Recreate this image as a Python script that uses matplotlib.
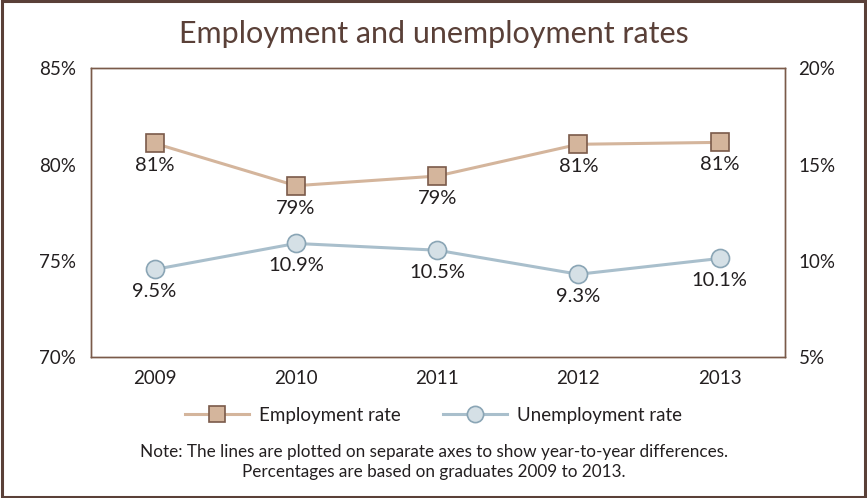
import matplotlib.pyplot as plt
from matplotlib.patches import Rectangle

years = ["2009", "2010", "2011", "2012", "2013"]
employment = [81.1, 78.9, 79.4, 81.05, 81.15]
employment_labels = ["81%", "79%", "79%", "81%", "81%"]
unemployment = [9.55, 10.9, 10.55, 9.3, 10.12]
unemployment_labels = ["9.5%", "10.9%", "10.5%", "9.3%", "10.1%"]
left_ticks = [70, 75, 80, 85]
right_ticks = [5, 10, 15, 20]

plt.rcParams['font.family'] = ['Lato', 'DejaVu Sans']

brown = "#5a4038"
emp_line = "#d4b59c"
emp_edge = "#7a5a4a"
unemp_line = "#a9bfcc"
unemp_face = "#d5e0e6"
unemp_edge = "#8aa5b5"
text_col = "#231f20"

fig = plt.figure(figsize=(8.67, 4.98), dpi=100)
fig.patches.append(Rectangle((0.002, 0.003), 0.996, 0.994, transform=fig.transFigure,
                             fill=False, edgecolor=brown, linewidth=2.2))

ax = fig.add_axes([0.105, 0.283, 0.8, 0.58])
ax2 = ax.twinx()
x = list(range(len(years)))

ax.plot(x, employment, color=emp_line, linewidth=2.2, marker='s', markersize=13,
        markerfacecolor=emp_line, markeredgecolor=emp_edge, markeredgewidth=1.2, zorder=3,
        label="Employment rate")
ax2.plot(x, unemployment, color=unemp_line, linewidth=2.2, marker='o', markersize=13,
         markerfacecolor=unemp_face, markeredgecolor=unemp_edge, markeredgewidth=1.2, zorder=3,
         label="Unemployment rate")

for xi, v, lab in zip(x, employment, employment_labels):
    ax.annotate(lab, (xi, v), xytext=(0, -10), textcoords='offset points',
                ha='center', va='top', fontsize=14.5, color=text_col)
for xi, v, lab in zip(x, unemployment, unemployment_labels):
    ax2.annotate(lab, (xi, v), xytext=(0, -10), textcoords='offset points',
                 ha='center', va='top', fontsize=14.5, color=text_col)

ax.set_xlim(-0.45, 4.46)
ax.set_ylim(70, 85)
ax2.set_ylim(5, 20)
ax.set_xticks(x)
ax.set_xticklabels(years)
ax.set_yticks(left_ticks)
ax.set_yticklabels([f"{t}%" for t in left_ticks])
ax2.set_yticks(right_ticks)
ax2.set_yticklabels([f"{t}%" for t in right_ticks])

for a in (ax, ax2):
    a.tick_params(length=0, labelsize=13.5, colors=text_col)
    for s in a.spines.values():
        s.set_color("#7a5a4a")
        s.set_linewidth(1.0)
ax.tick_params(axis='x', pad=9)
ax.tick_params(axis='y', pad=11)
ax2.tick_params(axis='y', pad=10)

fig.text(0.5, 0.932, "Employment and unemployment rates", ha='center', va='center',
         fontsize=22, color=brown)

h1, l1 = ax.get_legend_handles_labels()
h2, l2 = ax2.get_legend_handles_labels()
fig.legend(h1 + h2, l1 + l2, loc='center', bbox_to_anchor=(0.5, 0.166), ncol=2,
           frameon=False, fontsize=13.5, handlelength=3.4, columnspacing=2.3,
           handletextpad=0.5, labelcolor=text_col, markerscale=0.9)

fig.text(0.5, 0.092, "Note: The lines are plotted on separate axes to show year-to-year differences.",
         ha='center', va='center', fontsize=12.3, color=text_col)
fig.text(0.5, 0.052, "Percentages are based on graduates 2009 to 2013.",
         ha='center', va='center', fontsize=12.3, color=text_col)

fig.savefig("out.png", dpi=100)
